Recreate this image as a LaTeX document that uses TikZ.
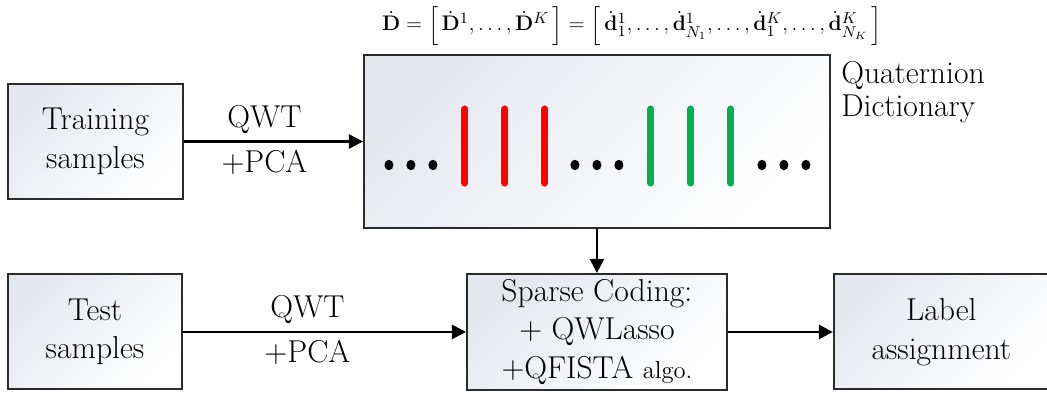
\documentclass[tikz,border=0pt]{standalone}
\usepackage{amsmath,amssymb}
\usepackage{tikz}
\usetikzlibrary{arrows.meta, positioning, calc}
\definecolor{BoxShade}{HTML}{E4E8EE}
\definecolor{BoxLine}{HTML}{2B2B2B}
\definecolor{AtomRed}{HTML}{FF0000}
\definecolor{AtomGreen}{HTML}{00B050}
\newcommand{\brkstrut}{\rule[-0.3cm]{0pt}{0.68cm}}
\tikzset{
  samplebox/.style={rectangle, draw=BoxLine, line width=1.1pt, top color=BoxShade, bottom color=white, shading angle=45, minimum width=3.5cm, minimum height=2.3cm, align=center, inner sep=2pt, font=\fontsize{18}{22}\selectfont},
  dictbox/.style={samplebox, minimum width=9.32cm, minimum height=3.46cm},
  codebox/.style={samplebox, minimum width=5.2cm, minimum height=2.32cm},
  steplabel/.style={font=\fontsize{18}{22}\selectfont, inner sep=4pt},
  arrow/.style={-{Triangle[length=0.28cm, width=0.28cm]}, line width=1.4pt, black},
  redatom/.style={AtomRed, line width=4pt, line cap=round},
  greenatom/.style={AtomGreen, line width=4pt, line cap=round}
}

\begin{document}
\begin{tikzpicture}
  \useasboundingbox (-1.91,-5.01) rectangle (19.03,2.83);

  \node[samplebox] (train) at (0,0) {Training\\samples};
  \node[dictbox, right=3.58cm of train] (dict) {};
  \node[font=\fontsize{12.3}{14}\selectfont, above=0.56cm of dict.north, anchor=center, xshift=0.7cm, inner sep=0pt] (eqn)
    {$\dot{\mathbf{D}}=\left[\brkstrut\,\dot{\mathbf{D}}^{1},\ldots,\dot{\mathbf{D}}^{K}\,\right]=\left[\brkstrut\,\dot{\mathbf{d}}^{1}_{1},\ldots,\dot{\mathbf{d}}^{1}_{N_1},\ldots,\dot{\mathbf{d}}^{K}_{1},\ldots,\dot{\mathbf{d}}^{K}_{N_K}\,\right]$};
  \node[font=\fontsize{18}{18.7}\selectfont, align=left, anchor=north west, inner sep=0pt] (dictname)
    at ($(dict.north east)+(0.2,-0.14)$) {Quaternion\\Dictionary};

  % atoms of the dictionary
  \foreach \x in {-2.64,-1.84,-1.04}
    \draw[redatom] ($(dict.center)+(\x,0.65)$) -- ++(0,-1.48);
  \foreach \x in {1.08,1.88,2.68}
    \draw[greenatom] ($(dict.center)+(\x,0.65)$) -- ++(0,-1.48);
  \foreach \x in {-4.16,-3.72,-3.28,-0.44,0,0.44,3.3,3.74,4.18}
    \fill ($(dict.center)+(\x,-0.47)$) ellipse (0.09cm and 0.105cm);

  \node[codebox, below=0.88cm of dict] (code)
    {Sparse Coding:\\+ QWLasso\\+QFISTA {\fontsize{14}{22}\selectfont algo.}};
  \node[samplebox, left=5.66cm of code, minimum width=3.48cm] (test) {Test\\samples};
  \node[samplebox, right=2.1cm of code, minimum width=4.3cm] (label) {Label\\assignment};

  \draw[arrow] (train) -- node[steplabel, pos=0.45, above] (qwt1) {QWT} node[steplabel, pos=0.45, below] (pca1) {+PCA} (dict);
  \draw[arrow] (test) -- node[steplabel, pos=0.44, above] (qwt2) {QWT} node[steplabel, pos=0.44, below] (pca2) {+PCA} (code);
  \draw[arrow] (dict) -- (code);
  \draw[arrow] (code) -- (label);
\end{tikzpicture}
\end{document}
